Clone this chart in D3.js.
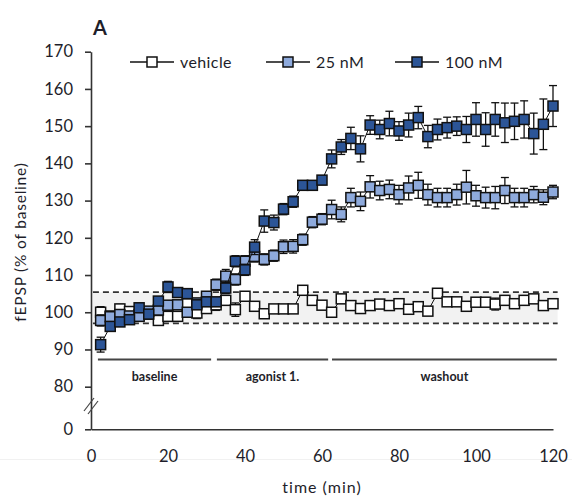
<!DOCTYPE html>
<html><head><meta charset="utf-8">
<script src="https://cdn.jsdelivr.net/npm/d3@7"></script>
<style>
body{margin:0;background:#fff}
svg{display:block}
text{font-family:Lato,"Open Sans",sans-serif;fill:#1e1e2a}
</style>
</head><body><svg id="c" width="572" height="496"></svg>
<script>
// ---- data ----
const times = [2.5,5,7.5,10,12.5,15,17.5,20,22.5,25,27.5,30,32.5,35,37.5,40,42.5,45,47.5,50,52.5,55,57.5,60,
  62.5,65,67.5,70,72.5,75,77.5,80,82.5,85,87.5,90,92.5,95,97.5,100,102.5,105,107.5,110,112.5,115,117.5,120];
const vehicle = [100.0,99.0,100.9,100.2,99.3,99.5,97.8,98.9,98.9,102.3,99.8,101.0,102.0,103.2,100.7,104.3,101.6,99.6,100.9,100.9,100.9,105.9,103.2,101.9,
  100.0,103.6,101.8,101.0,101.8,102.2,101.8,102.3,100.8,101.5,100.3,105.1,102.8,102.8,101.6,102.7,102.7,102.2,103.2,102.3,103.2,103.6,101.8,102.3];
const vehicleErr = [1.5,1.0,1.2,1.0,1.0,1.0,1.2,1.0,1.0,1.2,1.5,1.2,1.5,1.2,1.8,1.2,1.2,1.0,1.0,1.0,1.0,0.8,1.2,1.0,
  1.0,1.0,1.0,1.0,1.2,1.0,1.0,1.0,1.0,1.0,1.0,0.6,1.0,1.0,1.0,1.0,1.0,1.6,1.0,1.0,1.0,1.0,1.0,1.0];
const nM25 = [97.8,98.8,99.4,99.0,98.9,100.3,100.6,101.9,102.0,100.0,102.5,104.3,107.4,109.7,108.8,113.7,115.0,114.2,115.2,117.6,117.7,119.5,124.2,125.0,
  127.6,126.3,130.8,129.8,133.7,132.7,133.0,131.6,133.4,134.1,131.6,130.8,130.8,131.6,133.6,131.3,130.8,130.8,132.7,130.8,130.8,131.6,130.9,132.3];
const nM25Err = [1.5,1.2,1.2,1.0,1.0,1.0,1.0,1.2,1.2,1.2,1.2,1.2,1.5,1.8,1.5,1.5,1.5,1.5,1.5,1.8,1.8,1.5,1.5,1.5,
  2.5,2.0,2.5,2.5,3.0,2.5,2.5,2.5,3.2,3.5,2.8,2.5,2.5,2.8,4.5,2.8,2.8,3.0,3.5,2.5,2.5,2.2,2.0,1.8];
const nM100 = [91.3,96.2,97.4,98.0,101.2,99.5,103.0,106.8,105.3,105.0,102.0,102.8,102.8,106.5,113.7,111.4,117.5,124.5,124.1,127.7,129.7,134.1,134.1,135.5,
  141.2,144.4,146.7,143.9,150.3,149.1,150.7,148.7,150.3,152.3,147.2,149.1,149.6,150.0,149.1,151.8,149.1,151.8,150.9,151.3,151.8,148.0,150.5,155.4];
const nM100Err = [2.0,1.0,1.0,1.0,1.0,1.0,1.0,1.5,1.2,1.2,1.2,1.2,1.2,1.5,1.5,1.5,2.0,3.0,2.0,1.5,1.5,1.2,1.2,1.2,
  2.4,2.0,3.0,3.5,2.5,2.5,3.3,2.5,3.2,3.0,3.0,2.8,2.8,2.5,3.5,4.5,4.5,4.5,5.3,4.9,5.0,5.5,6.8,5.5];
const seriesNames = ["vehicle","25 nM","100 nM"];
const yTicks = [0,80,90,100,110,120,130,140,150,160,170];
const xTicks = [0,20,40,60,80,100,120];
const periodNames = ["baseline","agonist 1.","washout"];
const periodStart = [1.8,32.7,62.6];
const periodEnd = [31.2,61.6,121];
const bandRange = [97.0,105.4];

// ---- drawing ----
const svg = d3.select("#c");
const colors = ["#ffffff","#8eaadc","#2c5597"];
const series = [
  {name:seriesNames[0], vals:vehicle, errs:vehicleErr, color:colors[0]},
  {name:seriesNames[1], vals:nM25, errs:nM25Err, color:colors[1]},
  {name:seriesNames[2], vals:nM100, errs:nM100Err, color:colors[2]}
];
const x = d3.scaleLinear().domain([0,120]).range([91,553]);
const y = d3.scaleLinear().domain([0,80,170]).range([429.3,386.7,51.7]);

svg.append("rect").attr("width",572).attr("height",496).attr("fill","#fff");
// faint line near bottom
svg.append("line").attr("x1",0).attr("x2",572).attr("y1",459.5).attr("y2",459.5)
  .attr("stroke","#f1f1f1").attr("stroke-width",1);

// baseline band
svg.append("rect").attr("x",x(0.5)).attr("width",x(121.2)-x(0.5))
  .attr("y",y(bandRange[1])).attr("height",y(bandRange[0])-y(bandRange[1]))
  .attr("fill","#f2f2f2");
bandRange.forEach(v=>{
  svg.append("line").attr("x1",x(0.5)).attr("x2",x(121.2)).attr("y1",y(v)).attr("y2",y(v))
    .attr("stroke","#333").attr("stroke-width",1.6).attr("stroke-dasharray","6,4");
});

// axes
const yAxis = d3.axisLeft(y).tickValues(yTicks).tickSize(6).tickPadding(12).tickSizeOuter(0);
const gy = svg.append("g").attr("transform","translate(91,0)").call(yAxis);
gy.selectAll("path,line").attr("stroke","#333").attr("stroke-width",1.6);
gy.selectAll("text").style("font-size","16.5px").attr("fill","#1e1e2a");

const xAxis = d3.axisBottom(x).tickValues(xTicks).tickSize(0).tickPadding(21).tickSizeOuter(0);
const gx = svg.append("g").attr("transform",`translate(0,${y(0)})`).call(xAxis);
gx.selectAll("path").attr("stroke","#333").attr("stroke-width",1.6);
gx.selectAll("text").style("font-size","16.5px").attr("fill","#1e1e2a");

// axis break
[[84,411,94,398],[88,414,98,401]].forEach(p=>{
  svg.append("line").attr("x1",p[0]).attr("y1",p[1]).attr("x2",p[2]).attr("y2",p[3])
    .attr("stroke","#444").attr("stroke-width",1.2);
});

// period bars
periodNames.forEach((n,i)=>{
  svg.append("line").attr("x1",x(periodStart[i])).attr("x2",x(periodEnd[i]))
    .attr("y1",359.5).attr("y2",359.5).attr("stroke","#444").attr("stroke-width",2);
  svg.append("text").attr("x",(x(periodStart[i])+x(periodEnd[i]))/2).attr("y",380.5)
    .attr("text-anchor","middle").style("font-size","12.5px").style("font-weight","bold")
    .text(n);
});

// series
const line = d3.line().x((d,i)=>x(times[i])).y(d=>y(d));
const ms = 10, cap = 4;
series.forEach(s=>{
  const g = svg.append("g");
  g.append("path").datum(s.vals).attr("d",line).attr("fill","none")
    .attr("stroke","#111").attr("stroke-width",1);
  const eb = g.selectAll(".eb").data(s.vals).join("g");
  eb.append("line").attr("x1",(d,i)=>x(times[i])).attr("x2",(d,i)=>x(times[i]))
    .attr("y1",(d,i)=>y(d+s.errs[i])).attr("y2",(d,i)=>y(d-s.errs[i]))
    .attr("stroke","#111").attr("stroke-width",1.3);
  [1,-1].forEach(sg=>{
    eb.append("line").attr("x1",(d,i)=>x(times[i])-cap).attr("x2",(d,i)=>x(times[i])+cap)
      .attr("y1",(d,i)=>y(d+sg*s.errs[i])).attr("y2",(d,i)=>y(d+sg*s.errs[i]))
      .attr("stroke","#111").attr("stroke-width",1.3);
  });
  g.selectAll(".m").data(s.vals).join("rect")
    .attr("x",(d,i)=>x(times[i])-ms/2).attr("y",d=>y(d)-ms/2)
    .attr("width",ms).attr("height",ms).attr("fill",s.color)
    .attr("stroke","#111").attr("stroke-width",1.5);
});

// legend
const legX = [130,266,395];
series.forEach((s,i)=>{
  const lx = legX[i], ly = 62;
  svg.append("line").attr("x1",lx).attr("x2",lx+44).attr("y1",ly).attr("y2",ly)
    .attr("stroke","#111").attr("stroke-width",1.3);
  svg.append("rect").attr("x",lx+22-ms/2).attr("y",ly-ms/2).attr("width",ms).attr("height",ms)
    .attr("fill",s.color).attr("stroke","#111").attr("stroke-width",1.5);
  svg.append("text").attr("x",lx+50).attr("y",ly+5.5).style("font-size","16px")
    .style("letter-spacing","0.4px").text(s.name);
});

// panel label
svg.append("text").attr("x",93).attr("y",35).style("font-size","20px").style("font-weight","bold")
  .attr("fill","#111").text("A");

// axis titles
svg.append("text").attr("x",322).attr("y",493).attr("text-anchor","middle")
  .style("font-size","16px").style("letter-spacing","1px").text("time (min)");
svg.append("text").attr("transform","translate(26,242) rotate(-90)").attr("text-anchor","middle")
  .style("font-size","15.5px").style("letter-spacing","0.8px").text("fEPSP (% of baseline)");
</script></body></html>
